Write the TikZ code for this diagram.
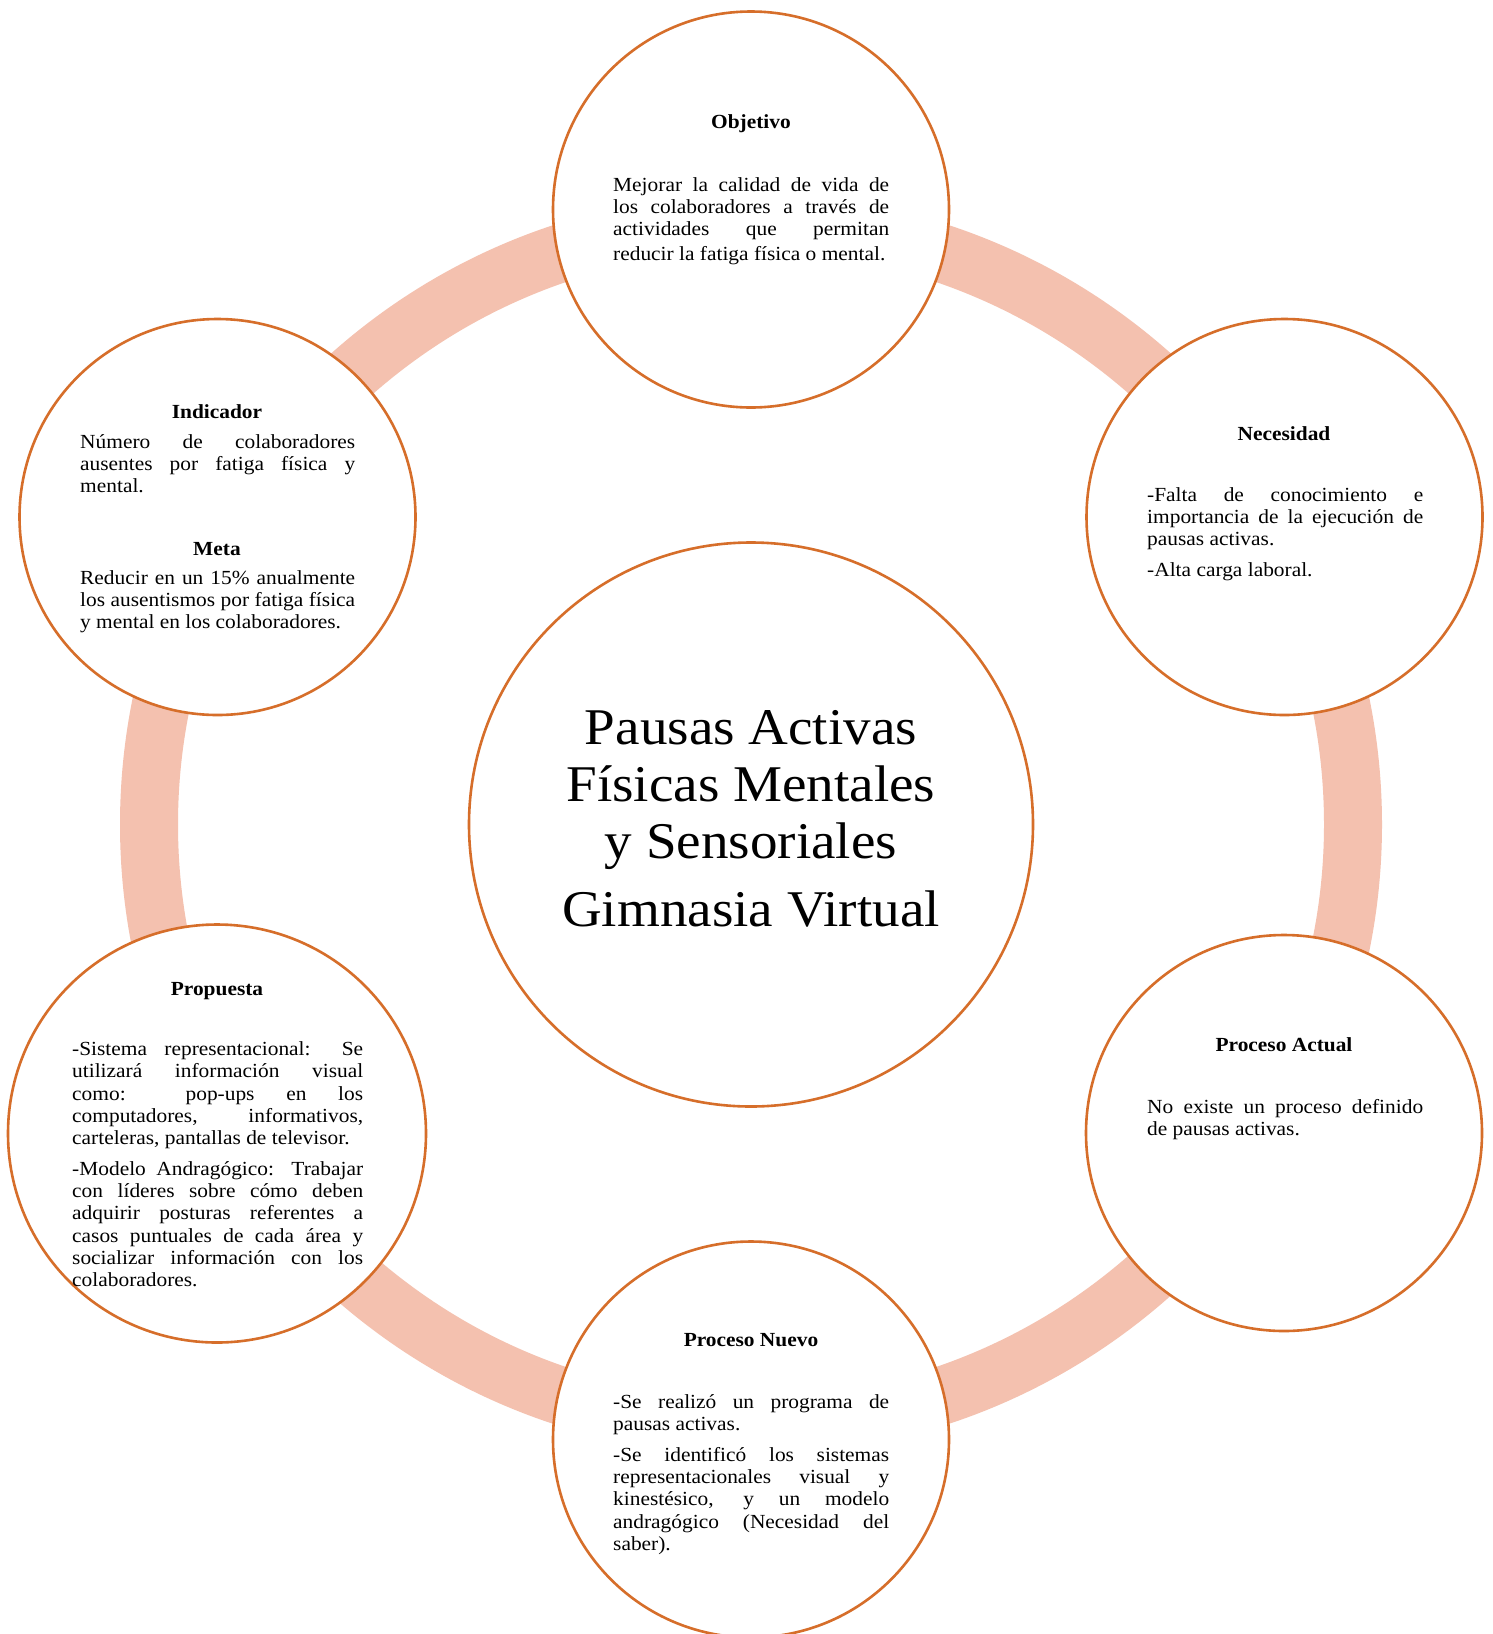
\documentclass[tikz,border=0pt]{standalone}
\usepackage{fontspec}
\setmainfont{Liberation Serif}[FakeStretch=1.07]
\definecolor{ringc}{RGB}{244,193,175}
\definecolor{edgec}{RGB}{214,110,42}
\hyphenpenalty=10000
\exhyphenpenalty=10000
\tolerance=10000
\begin{document}
\begin{tikzpicture}[x=1pt,y=-1pt,
  ringline/.style={draw=ringc,line width=58pt},
  bubble/.style={circle,draw=edgec,line width=2.6pt,fill=white,inner sep=0pt,minimum size=396pt},
  headtxt/.style={anchor=base,inner sep=0pt,font=\bfseries\fontsize{20}{22.2}\selectfont},
  bodytxt/.style={anchor=base west,text width=276pt,align=justify,inner sep=0pt,font=\fontsize{20}{22.2}\selectfont},
  centertxt/.style={anchor=base,align=flush center,text width=560pt,inner sep=0pt,font=\fontsize{51.5}{57}\selectfont}
]
\fill[white] (0,0) rectangle (1493,1634);
\useasboundingbox (0,0) rectangle (1493,1634);
\coordinate (O) at (751,824.5);
\draw[ringline] (O) circle[radius=602pt];

\node[bubble,minimum size=564pt] (ctr) at (O) {};
\node[bubble] (obj) at (751,209.5) {};
\node[bubble] (nec) at (1284.5,517) {};
\node[bubble] (pact) at (1284,1133) {};
\node[bubble] (pnue) at (751,1439.5) {};
\node[bubble,minimum size=418pt] (prop) at (217,1133.5) {};
\node[bubble] (ind) at (217.5,517) {};

% centre
\node[centertxt] (ctrt) at (751,744) {Pausas Activas\\Físicas Mentales\\y Sensoriales\\[11pt]Gimnasia Virtual};

% Objetivo
\node[headtxt] (objh) at (751,128) {Objetivo};
\node[bodytxt] (objt) at (613,191) {Mejorar la calidad de vida de\linebreak los colaboradores a través de\linebreak actividades que permitan{\parfillskip=0pt\par}\vspace{3pt}reducir la fatiga física o mental.};

% Necesidad
\node[headtxt] (nech) at (1284,440) {Necesidad};
\node[bodytxt] (nect) at (1147,501) {-Falta de conocimiento e\linebreak importancia de la ejecución de\linebreak pausas activas.\par\vspace{8.8pt}-Alta carga laboral.};

% Proceso Actual
\node[headtxt] (pacth) at (1284,1051.7) {Proceso Actual};
\node[bodytxt] (pactt) at (1147,1113.3) {No existe un proceso definido\linebreak de pausas activas.};

% Proceso Nuevo
\node[headtxt] (pnueh) at (751,1346.7) {Proceso Nuevo};
\node[bodytxt] (pnuet) at (613,1408.3) {-Se realizó un programa de\linebreak pausas activas.\par\vspace{8.8pt}-Se identificó los sistemas\linebreak representacionales visual y\linebreak kinestésico, y un modelo\linebreak andragógico (Necesidad del\linebreak saber).};

% Propuesta
\node[headtxt] (proph) at (217,995) {Propuesta};
\node[bodytxt,text width=291pt] (propt) at (72,1055.7) {-Sistema representacional: Se\linebreak utilizará información visual\linebreak como: pop-ups en los\linebreak computadores, informativos,\linebreak carteleras, pantallas de televisor.\par\vspace{8.8pt}-Modelo Andragógico: Trabajar\linebreak con líderes sobre cómo deben\linebreak adquirir posturas referentes a\linebreak casos puntuales de cada área y\linebreak socializar información con los\linebreak colaboradores.};

% Indicador / Meta
\node[headtxt] (indh) at (217,418.3) {Indicador};
\node[bodytxt,text width=275pt] (indt) at (80,448.3) {Número de colaboradores\linebreak ausentes por fatiga física y\linebreak mental.};
\node[headtxt] (metah) at (217,555) {Meta};
\node[bodytxt,text width=275pt] (metat) at (80,584.3) {Reducir en un 15\% anualmente\linebreak los ausentismos por fatiga física\linebreak y mental en los colaboradores.};
\end{tikzpicture}
\end{document}
